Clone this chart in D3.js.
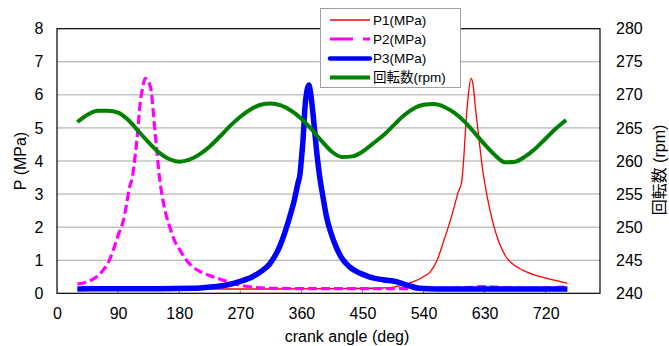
<!DOCTYPE html>
<html>
<head>
<meta charset="utf-8">
<script src="https://cdn.jsdelivr.net/npm/d3@7"></script>
<style>
  html, body { margin: 0; padding: 0; background: #fff; }
  svg { display: block; font-family: "Liberation Sans", Arial, "Noto Sans CJK JP", sans-serif; }
  .axis path, .axis line { stroke: none; }
  .axis text { font-size: 16px; fill: #000; }
  .grid line { stroke: #a6a6a6; stroke-width: 1; }
  .legend text { font-size: 13.5px; fill: #000; }
</style>
</head>
<body>
<div id="chart"></div>
<script>
// crank angle (deg) ticks and axis ranges
const xTicks = [0, 90, 180, 270, 360, 450, 540, 630, 720];
const pTicks = [0, 1, 2, 3, 4, 5, 6, 7, 8];
const rpmTicks = [240, 245, 250, 255, 260, 265, 270, 275, 280];

const seriesNames = ["P1(MPa)", "P2(MPa)", "P3(MPa)", "回転数(rpm)"];

// [crank angle, MPa]
const p1 = [
  [30, 0.12], [100, 0.12], [200, 0.13], [300, 0.13], [400, 0.14], [480, 0.16],
  [510, 0.25], [525, 0.35], [540, 0.5], [550, 0.65], [560, 1.0], [570, 1.6],
  [578, 2.1], [585, 2.6], [591, 3.05], [596, 3.35], [599, 4.0], [602, 5.0],
  [606, 6.0], [610, 6.5], [613, 6.3], [617, 5.5], [622, 4.6], [627, 3.75],
  [634, 2.9], [642, 2.15], [651, 1.55], [661, 1.12], [673, 0.86], [686, 0.7],
  [703, 0.56], [720, 0.46], [736, 0.38], [752, 0.3]
];

const p2 = [
  [30, 0.28], [45, 0.35], [55, 0.45], [68, 0.7], [76, 0.95], [83, 1.31],
  [90, 1.75], [98, 2.22], [103, 2.75], [107, 3.22], [111, 3.5], [115, 4.13],
  [119, 4.9], [122, 5.64], [126, 6.2], [130, 6.5], [133, 6.45], [136, 6.35],
  [139, 6.1], [143, 5.2], [147, 4.33], [151, 3.5], [156, 2.82], [161, 2.35],
  [166, 2.01], [173, 1.6], [181, 1.31], [190, 1.02], [200, 0.8], [215, 0.62],
  [230, 0.5], [250, 0.36], [269, 0.25], [290, 0.18], [320, 0.15], [400, 0.14],
  [500, 0.14], [560, 0.15], [600, 0.17], [630, 0.2], [660, 0.17], [700, 0.16],
  [730, 0.17], [752, 0.2]
];

const p3 = [
  [30, 0.13], [100, 0.14], [150, 0.14], [200, 0.15], [230, 0.2], [250, 0.25],
  [270, 0.36], [288, 0.5], [300, 0.65], [313, 0.88], [328, 1.41], [343, 2.32],
  [350, 2.85], [355, 3.33], [358, 3.6], [360, 4.03], [363, 4.8], [365, 5.54],
  [368, 6.1], [371, 6.3], [374, 6.0], [379, 5.04], [383, 4.2], [387, 3.53],
  [392, 2.9], [397, 2.32], [404, 1.8], [411, 1.41], [420, 1.05], [431, 0.8],
  [445, 0.62], [460, 0.5], [480, 0.41], [500, 0.35], [520, 0.22], [534, 0.15],
  [560, 0.13], [650, 0.13], [752, 0.13]
];

// [crank angle, rpm]
const rpm = [
  [30, 265.9], [45, 267.0], [60, 267.6], [75, 267.6], [90, 267.3], [105, 266.2],
  [120, 264.5], [135, 262.8], [150, 261.3], [165, 260.3], [180, 259.9], [195, 260.2],
  [210, 261.0], [225, 262.2], [240, 263.7], [255, 265.3], [270, 266.7], [285, 267.8],
  [300, 268.5], [315, 268.7], [330, 268.4], [345, 267.6], [360, 266.4], [375, 264.8],
  [390, 263.0], [405, 261.4], [420, 260.6], [435, 260.7], [450, 261.4], [465, 262.6],
  [480, 263.8], [495, 265.3], [510, 266.8], [525, 267.9], [540, 268.5], [555, 268.6],
  [570, 268.2], [585, 267.3], [600, 266.0], [615, 264.3], [630, 262.5], [645, 260.9],
  [660, 259.8], [675, 259.9], [690, 260.7], [705, 261.9], [720, 263.4], [735, 264.9],
  [750, 266.2]
];

const width = 669, height = 346;
const plot = { left: 57, right: 600, top: 28.7, bottom: 293.3 };

const svg = d3.select("#chart").append("svg")
  .attr("width", width)
  .attr("height", height);

const x = d3.scaleLinear().domain([0, 800]).range([plot.left, plot.right]);
const y = d3.scaleLinear().domain([0, 8]).range([plot.bottom, plot.top]);
const y2 = d3.scaleLinear().domain([240, 280]).range([plot.bottom, plot.top]);

// gridlines
svg.append("g")
  .attr("class", "grid")
  .selectAll("line")
  .data(pTicks.slice(1, -1))
  .join("line")
  .attr("x1", plot.left)
  .attr("x2", plot.right)
  .attr("y1", (d) => y(d))
  .attr("y2", (d) => y(d));

// small inside ticks on the crank angle axis
svg.append("g")
  .selectAll("line")
  .data(xTicks.slice(1))
  .join("line")
  .attr("x1", (d) => x(d))
  .attr("x2", (d) => x(d))
  .attr("y1", plot.bottom)
  .attr("y2", plot.bottom - 3)
  .attr("stroke", "#808080");

// axes
svg.append("g")
  .attr("class", "axis")
  .attr("transform", `translate(0,${plot.bottom})`)
  .call(d3.axisBottom(x).tickValues(xTicks).tickSize(0).tickPadding(14));

svg.append("g")
  .attr("class", "axis")
  .attr("transform", `translate(${plot.left},0)`)
  .call(d3.axisLeft(y).tickValues(pTicks).tickSize(0).tickPadding(13.5));

svg.append("g")
  .attr("class", "axis")
  .attr("transform", `translate(${plot.right},0)`)
  .call(d3.axisRight(y2).tickValues(rpmTicks).tickSize(0).tickPadding(16));

// axis titles
svg.append("text")
  .attr("x", 347)
  .attr("y", 342)
  .attr("text-anchor", "middle")
  .attr("font-size", 16)
  .text("crank angle (deg)");

svg.append("text")
  .attr("transform", `translate(25.5,${(plot.top + plot.bottom) / 2}) rotate(-90)`)
  .attr("text-anchor", "middle")
  .attr("font-size", 16)
  .text("P (MPa)");

svg.append("text")
  .attr("transform", `translate(665,170) rotate(-90)`)
  .attr("text-anchor", "middle")
  .attr("font-size", 16)
  .text("回転数 (rpm)");

// series
const lineP = d3.line().x((d) => x(d[0])).y((d) => y(d[1])).curve(d3.curveMonotoneX);
const lineR = d3.line().x((d) => x(d[0])).y((d) => y2(d[1])).curve(d3.curveMonotoneX);

const styles = [
  { color: "#ff0000", width: 1.3, dash: null },
  { color: "#ff00ff", width: 3.2, dash: "9,4" },
  { color: "#0000ff", width: 5.5, dash: null },
  { color: "#008000", width: 4, dash: null },
];

const plotG = svg.append("g");
[p1, p2, p3].forEach((data, i) => {
  plotG.append("path")
    .datum(data)
    .attr("fill", "none")
    .attr("stroke", styles[i].color)
    .attr("stroke-width", styles[i].width)
    .attr("stroke-dasharray", styles[i].dash)
    .attr("stroke-linejoin", "round")
    .attr("d", lineP);
});

plotG.append("path")
  .datum(rpm)
  .attr("fill", "none")
  .attr("stroke", styles[3].color)
  .attr("stroke-width", styles[3].width)
  .attr("stroke-linejoin", "round")
  .attr("d", lineR);

// plot frame
svg.append("rect")
  .attr("x", plot.left)
  .attr("y", plot.top)
  .attr("width", plot.right - plot.left)
  .attr("height", plot.bottom - plot.top)
  .attr("fill", "none")
  .attr("stroke", "#000")
  .attr("stroke-width", 1.2);

// legend
const legend = svg.append("g").attr("class", "legend");
legend.append("rect")
  .attr("x", 320.5)
  .attr("y", 8.5)
  .attr("width", 140)
  .attr("height", 79)
  .attr("fill", "#fff")
  .attr("stroke", "#a0a0a0");

const rowY = [20, 39, 58.5, 77.5];
seriesNames.forEach((name, i) => {
  legend.append("line")
    .attr("x1", 330)
    .attr("x2", 370)
    .attr("y1", rowY[i])
    .attr("y2", rowY[i])
    .attr("stroke", styles[i].color)
    .attr("stroke-width", Math.min(styles[i].width, 4.5))
    .attr("stroke-linecap", i === 2 ? "round" : "butt")
    .attr("stroke-dasharray", i === 1 ? "23,10" : null);
  legend.append("text")
    .attr("x", 373)
    .attr("y", rowY[i])
    .attr("dy", "0.36em")
    .text(name);
});
</script>
</body>
</html>
